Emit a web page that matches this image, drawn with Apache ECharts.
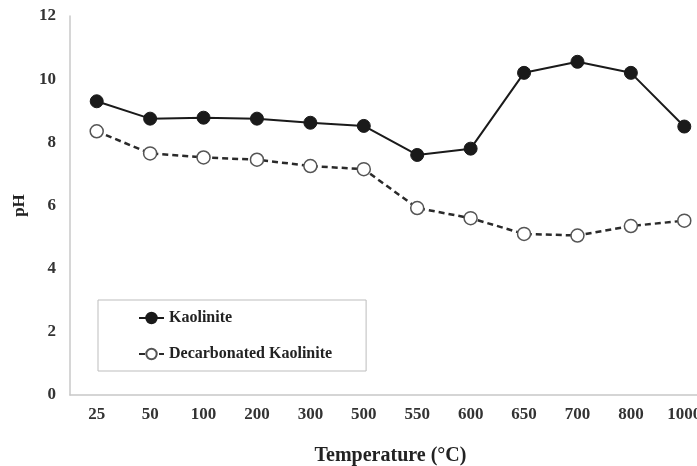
<!DOCTYPE html>
<html><head><meta charset="utf-8">
<script src="https://cdn.jsdelivr.net/npm/echarts@6/dist/echarts.min.js"></script>
<style>html,body{margin:0;padding:0;background:#fff}#c{width:697px;height:466px}</style>
</head><body><div id="c"></div>
<script>
const categories = ['25','50','100','200','300','500','550','600','650','700','800','1000'];
const kaolinite = [9.3, 8.75, 8.78, 8.75, 8.62, 8.52, 7.6, 7.8, 10.2, 10.55, 10.2, 8.5];
const decarbonated = [8.35, 7.65, 7.52, 7.45, 7.25, 7.15, 5.92, 5.6, 5.1, 5.05, 5.35, 5.52];
const yTicks = [0, 2, 4, 6, 8, 10, 12];

const font = 'Liberation Serif';
const chart = echarts.init(document.getElementById('c'));
chart.setOption({
  backgroundColor: '#fff',
  animation: false,
  grid: { left: 70, top: 16, width: 641, bottom: 71, containLabel: false, outerBoundsMode: 'none' },
  legend: {
    orient: 'vertical', left: 98, top: 300,
    padding: [10, 34, 9, 40], itemGap: 20, itemWidth: 25, itemHeight: 13,
    borderColor: '#bdbdbd', borderWidth: 1,
    textStyle: { fontFamily: font, fontSize: 16, fontWeight: 'bold', color: '#222' },
    data: ['Kaolinite', 'Decarbonated Kaolinite']
  },
  xAxis: {
    type: 'category', data: categories, boundaryGap: true,
    name: 'Temperature (°C)', nameLocation: 'middle', nameGap: 51,
    nameTextStyle: { fontFamily: font, fontSize: 20, fontWeight: 'bold', color: '#222' },
    axisLine: { lineStyle: { color: '#c8c8c8', width: 1.5 } },
    axisTick: { show: false },
    axisLabel: { fontFamily: font, fontSize: 17, fontWeight: 'bold', color: '#333', margin: 11 }
  },
  yAxis: {
    type: 'value', min: yTicks[0], max: yTicks[yTicks.length - 1], interval: 2,
    name: 'pH', nameLocation: 'middle', nameGap: 40, nameRotate: 90,
    nameTextStyle: { fontFamily: font, fontSize: 17, fontWeight: 'bold', color: '#222' },
    axisLine: { show: true, lineStyle: { color: '#c8c8c8', width: 1.5 } },
    axisTick: { show: false },
    splitLine: { show: false },
    axisLabel: { fontFamily: font, fontSize: 17, fontWeight: 'bold', color: '#333', margin: 14 }
  },
  series: [
    {
      name: 'Kaolinite', type: 'line', data: kaolinite,
      symbol: 'circle', symbolSize: 13,
      lineStyle: { color: '#1a1a1a', width: 2 },
      itemStyle: { color: '#1a1a1a', borderColor: '#1a1a1a', borderWidth: 1 }
    },
    {
      name: 'Decarbonated Kaolinite', type: 'line', data: decarbonated,
      symbol: 'circle', symbolSize: 13,
      lineStyle: { color: '#2a2a2a', width: 2.5, type: [6, 4] },
      itemStyle: { color: '#fff', borderColor: '#555', borderWidth: 1.5 }
    }
  ]
});
</script></body></html>
